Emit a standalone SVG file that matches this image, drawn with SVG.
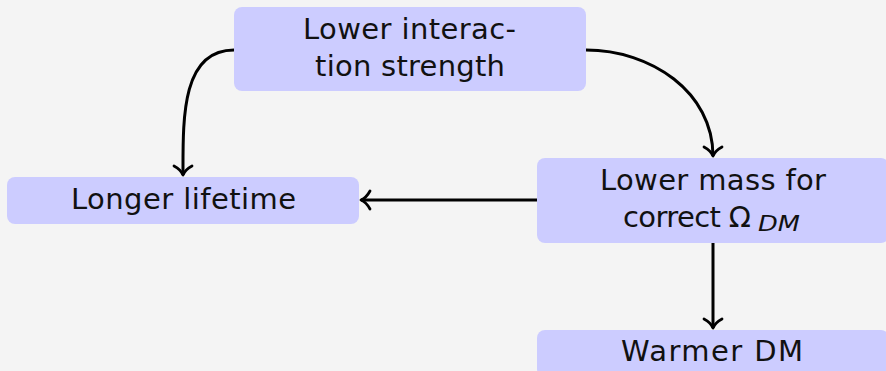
<svg xmlns="http://www.w3.org/2000/svg" width="886" height="371" viewBox="0 0 886 371">
  <style>
    .box { fill: #ccccff; }
    .lbl { font-family: "DejaVu Sans", "Liberation Sans", sans-serif; font-size: 29px; fill: #111; }
    .sub { font-family: "DejaVu Sans", "Liberation Sans", sans-serif; font-size: 22px; font-style: italic; fill: #111; }
    .edge { fill: none; stroke: #000; stroke-width: 3; }
  </style>
  <defs>
    <marker id="arrow" markerUnits="userSpaceOnUse" markerWidth="24" markerHeight="24" viewBox="-12 -12 24 24" refX="0" refY="0" orient="auto" overflow="visible">
      <path d="M -9 -9 C -6 -3.5 -2.5 -1 0 0 C -2.5 1 -6 3.5 -9 9" fill="none" stroke="#000" stroke-width="2.8" stroke-linecap="round" stroke-linejoin="round"/>
    </marker>
  </defs>

  <rect width="886" height="371" fill="#f4f4f4"/>

  <g id="edges">
    <path class="edge" d="M 234 50 C 181 50 183 120 183 175" marker-end="url(#arrow)"/>
    <path class="edge" d="M 586 50 C 651 50 713 92 713 156" marker-end="url(#arrow)"/>
    <path class="edge" d="M 537 200 L 361 200" marker-end="url(#arrow)"/>
    <path class="edge" d="M 713 243 L 713 328" marker-end="url(#arrow)"/>
  </g>

  <g id="node-interaction">
    <rect class="box" x="234" y="7" width="352" height="84" rx="8"/>
    <text class="lbl" x="303" y="39" textLength="213" lengthAdjust="spacing">Lower interac-</text>
    <text class="lbl" x="315" y="76" textLength="190" lengthAdjust="spacing">tion strength</text>
  </g>

  <g id="node-lifetime">
    <rect class="box" x="7" y="177" width="352" height="47" rx="8"/>
    <text class="lbl" x="71" y="209" textLength="225" lengthAdjust="spacing">Longer lifetime</text>
  </g>

  <g id="node-mass">
    <rect class="box" x="537" y="158" width="352" height="85" rx="8"/>
    <text class="lbl" x="600" y="190" textLength="226" lengthAdjust="spacing">Lower mass for</text>
    <text class="lbl" x="623" y="227" textLength="128" lengthAdjust="spacing">correct Ω</text>
    <text class="sub" x="758" y="231" textLength="42" lengthAdjust="spacingAndGlyphs">DM</text>
  </g>

  <g id="node-warmer">
    <rect class="box" x="537" y="330" width="352" height="47" rx="8"/>
    <text class="lbl" x="621" y="361" textLength="182" lengthAdjust="spacing">Warmer DM</text>
  </g>
</svg>
